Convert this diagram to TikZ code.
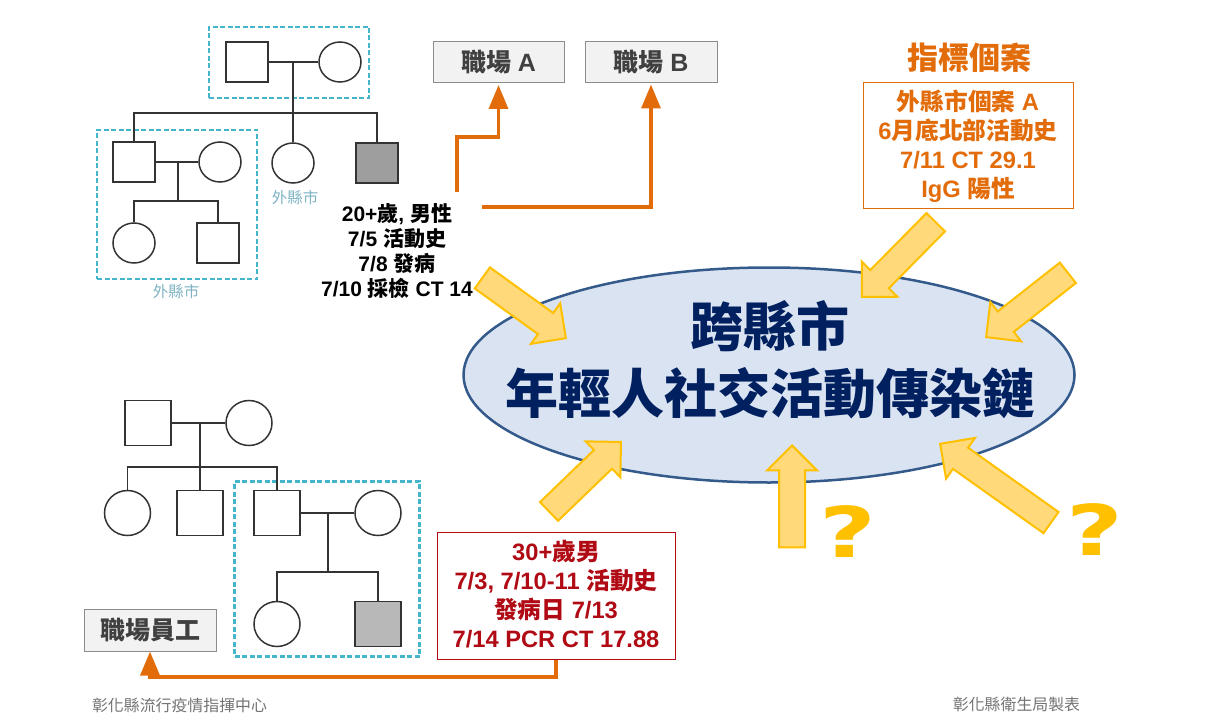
\documentclass[tikz,border=0pt]{standalone}
\usepackage{fontspec}
\setmainfont{Liberation Sans}
\newfontfamily\cjk{Noto Sans CJK TC}
\newfontfamily\qfont{DejaVu Sans}
\newcommand{\zh}[1]{{\cjk #1}}
\usetikzlibrary{arrows.meta,shapes.geometric,shapes.arrows}
\definecolor{tealc}{HTML}{45B5CC}
\definecolor{labelc}{HTML}{7FB3C4}
\definecolor{orangec}{HTML}{E36C0A}
\definecolor{redc}{HTML}{B00A14}
\definecolor{navyc}{HTML}{002060}
\definecolor{bluec}{HTML}{DAE3F1}
\definecolor{edgec}{HTML}{335A8A}
\definecolor{goldc}{HTML}{FFC000}
\definecolor{sandc}{HTML}{FFD97A}
\begin{document}
\begin{tikzpicture}[
            x=1pt,y=-1pt,
            person/.style={draw=black!80,line width=1.5pt,inner sep=0pt},
            male/.style={person,rectangle,minimum width=42pt,minimum height=40pt},
            female/.style={person,ellipse,minimum width=42pt,minimum height=40pt},
            bigmale/.style={male,minimum width=46pt,minimum height=45pt},
            bigfemale/.style={female,minimum width=46pt,minimum height=45pt},
            kin/.style={draw=black!80,line width=1.5pt},
            dashbox/.style={draw=tealc,line width=2.2pt,dash pattern=on 5pt off 2.5pt,inner sep=0pt},
            place/.style={text=labelc,font=\fontsize{15.5}{18}\selectfont\cjk},
            workbox/.style={draw=black!45,fill=black!5,line width=1pt,text=black!75,inner sep=0pt,minimum height=41pt,
              font=\fontsize{25}{30}\selectfont\bfseries},
            link/.style={draw=orangec,line width=3.4pt,-{Triangle[width=19pt,length=24pt]}},
            fatarrow/.style={single arrow,draw=goldc,fill=sandc,line width=2pt,inner sep=12pt,minimum width=0pt,
              single arrow tip angle=90,single arrow head extend=12pt,anchor=tip},
            lines/.style={align=center,inner sep=0pt,font=\fontsize{21}{25}\selectfont\bfseries},
            bigger/.style={font=\fontsize{23.7}{29}\selectfont\bfseries},
            foot/.style={text=black!55,font=\fontsize{15.9}{18}\selectfont\cjk},
            quest/.style={text=goldc,inner sep=0pt,xscale=1.4,font=\fontsize{70}{72}\selectfont\bfseries\qfont}
        ]
    \useasboundingbox (0,0) rectangle (1209,719);

    % family with the 20+ case
    \node[dashbox,minimum width=160pt,minimum height=71pt] (g1) at (289,62.5) {};
    \node[dashbox,minimum width=160pt,minimum height=149pt] (g2) at (177,204.5) {};
    \node[male] (m1) at (247,62) {};
    \node[female] (f1) at (340,62) {};
    \node[male] (m2) at (134,162) {};
    \node[female] (f2) at (220,162) {};
    \node[female] (f3) at (293,163) {};
    \node[male,fill=black!38] (m3) at (377,163) {};
    \node[female] (f4) at (134,243) {};
    \node[male] (m4) at (218,243) {};
    \coordinate (c1) at (293,62);
    \coordinate (b1) at (293,113);
    \coordinate (c2) at (178,162);
    \coordinate (b2) at (178,201);
    \draw[kin] (m1.east) -- (f1.west);
    \draw[kin] (c1) -- (f3.north);
    \draw[kin] (m2.north) |- (b1) -| (m3.north);
    \draw[kin] (m2.east) -- (f2.west);
    \draw[kin] (c2) -- (b2);
    \draw[kin] (f4.north) |- (b2) -| (m4.north);
    \node[place] (p1) at (295,198) {外縣市};
    \node[place] (p2) at (176,292) {外縣市};

    % family with the 30+ case
    \node[dashbox,minimum width=185pt,minimum height=175pt] (g3) at (327,569) {};
    \node[bigmale] (m5) at (148,423) {};
    \node[bigfemale] (f5) at (249,423) {};
    \node[bigfemale] (f6) at (127.5,513) {};
    \node[bigmale] (m6) at (200,513) {};
    \node[bigmale] (m7) at (277,513) {};
    \node[bigfemale] (f7) at (378,513) {};
    \node[bigfemale] (f8) at (277,624) {};
    \node[bigmale,fill=black!28] (m8) at (378,624) {};
    \coordinate (c3) at (200,423);
    \coordinate (b3) at (200,467);
    \coordinate (c4) at (328,513);
    \coordinate (b4) at (328,572);
    \draw[kin] (m5.east) -- (f5.west);
    \draw[kin] (c3) -- (m6.north);
    \draw[kin] (f6.north) |- (b3) -| (m7.north);
    \draw[kin] (m7.east) -- (f7.west);
    \draw[kin] (c4) -- (b4);
    \draw[kin] (f8.north) |- (b4) -| (m8.north);

    % workplaces
    \node[workbox,minimum width=131pt] (wa) at (498.5,62.5) {\zh{職場} A};
    \node[workbox,minimum width=132pt] (wb) at (651,62.5) {\zh{職場} B};
    \node[workbox,minimum width=132pt,minimum height=42pt] (wc) at (150,630) {\zh{職場員工}};

    % case notes
    \node[lines] (note1) at (397,251.5) {20+\zh{歲}, \zh{男性}\\7/5 \zh{活動史}\\7/8 \zh{發病}\\7/10 \zh{採檢} CT 14};
    \node[draw=redc,line width=1pt,minimum width=238pt,minimum height=127pt,lines,bigger,text=redc,text depth=4pt] (note2) at (556,595.5)
      {30+\zh{歲男}\\7/3, 7/10-11 \zh{活動史}\\\zh{發病日} 7/13\\7/14 PCR CT 17.88};
    \node[draw=orangec,line width=1pt,minimum width=210pt,minimum height=126pt,lines,bigger,text=orangec] (note3) at (968,146)
      {\zh{外縣市個案} A\\6\zh{月底北部活動史}\\7/11 CT 29.1\\IgG \zh{陽性}};
    \node[text=orangec,inner sep=0pt,font=\fontsize{31}{36}\selectfont\bfseries\cjk] (head) at (969,58) {指標個案};

    \coordinate (s1) at (457,192);
    \coordinate (k1) at (498.5,137);
    \coordinate (s2) at (482,207);
    \coordinate (k2) at (556,677);
    \draw[link,shorten >=1.5pt] (s1) |- (k1) -- (wa.south);
    \draw[link,shorten >=1pt] (s2) -| (wb.south);
    \draw[link] (note2.south) -- (k2) -| (wc.south);

    % centre
    \node[ellipse,draw=edgec,fill=bluec,line width=2.5pt,minimum width=611pt,minimum height=215pt,inner sep=0pt] (chain) at (769,375) {};
    \node[text=navyc,align=center,inner sep=0pt,font=\fontsize{53}{67}\selectfont\bfseries\cjk] (title) at (770,360) {跨縣市\\年輕人社交活動傳染鏈};

    \foreach \n/\x/\y/\r/\l in {1/567/339/-35.8/103, 2/861/298/225.4/105, 3/985/338/218.2/104,
        4/622/441/44/100, 5/792/444/90/102, 6/939/443/144.6/136}
        \node[fatarrow,rotate=\r,minimum height=\l pt] (a\n) at (\x,\y) {};

    \node[quest] (q1) at (847.5,531.5) {?};
    \node[quest] (q2) at (1094.5,530) {?};

    \node[foot] (f1t) at (179.5,705) {彰化縣流行疫情指揮中心};
    \node[foot] (f2t) at (1016.5,704) {彰化縣衛生局製表};
    \end{tikzpicture}
\end{document}
